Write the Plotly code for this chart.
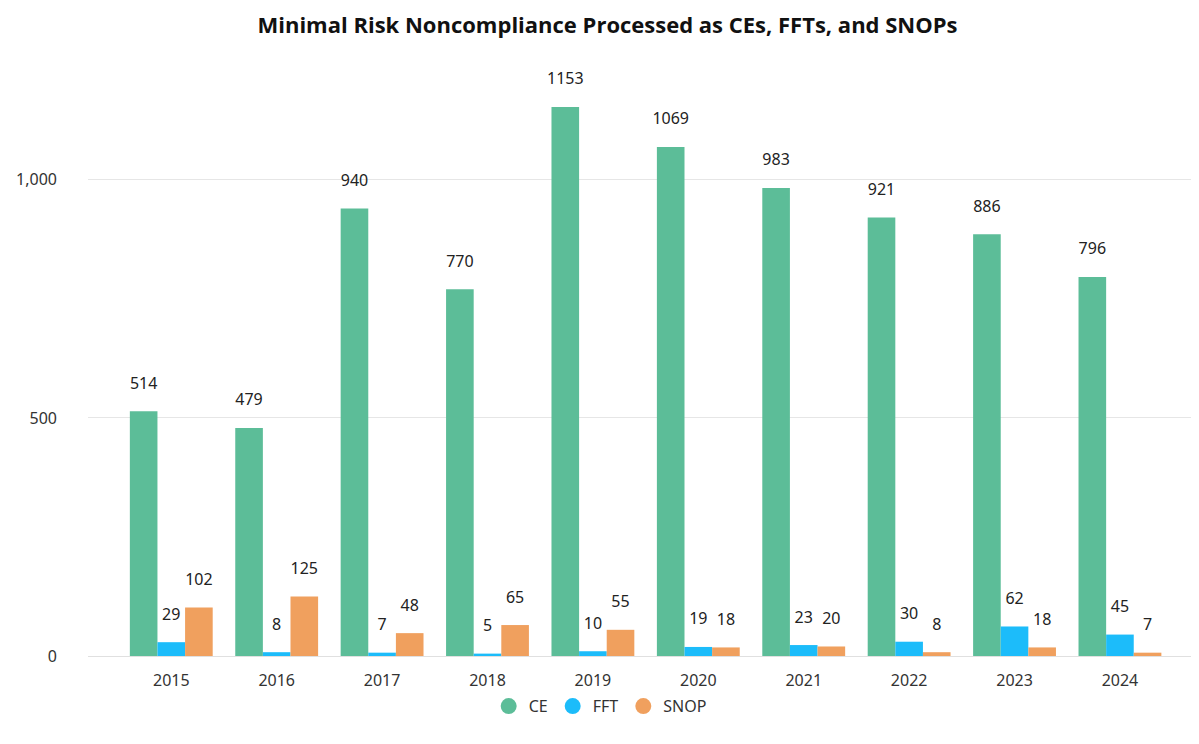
import plotly.graph_objects as go

years = ["2015", "2016", "2017", "2018", "2019", "2020", "2021", "2022", "2023", "2024"]
ce = [514, 479, 940, 770, 1153, 1069, 983, 921, 886, 796]
fft = [29, 8, 7, 5, 10, 19, 23, 30, 62, 45]
snop = [102, 125, 48, 65, 55, 18, 20, 8, 18, 7]

series = [("CE", ce, "#5cbd98"), ("FFT", fft, "#1cbcfa"), ("SNOP", snop, "#f0a05e")]

fig = go.Figure()
for name, vals, col in series:
    fig.add_trace(go.Bar(
        x=years, y=vals, name=name, marker=dict(color=col, line=dict(width=0)),
        offsetgroup=name, showlegend=False, hoverinfo="skip",
    ))
# value labels, grouped like the bars, lifted by an invisible marker
for name, vals, col in series:
    fig.add_trace(go.Scatter(
        x=years, y=vals, mode="markers+text", offsetgroup=name,
        text=[str(v) for v in vals], textposition="top center",
        textfont=dict(size=16, color="#222222", family="Noto Sans"),
        marker=dict(size=28, color="rgba(0,0,0,0)"),
        cliponaxis=False, showlegend=False,
    ))
for name, vals, col in series:
    fig.add_trace(go.Scatter(
        x=[None], y=[None], mode="markers", name=name,
        marker=dict(symbol="circle", size=17, color=col),
    ))

fig.update_layout(
    width=1199, height=744,
    plot_bgcolor="white", paper_bgcolor="white",
    margin=dict(l=77, r=8, t=29, b=96),
    barmode="group", bargap=0.214, bargroupgap=0,
    scattermode="group", scattergap=0.214,
    font=dict(family="Noto Sans", size=16, color="#333333"),
    title=dict(text="<b>Minimal Risk Noncompliance Processed as CEs, FFTs, and SNOPs</b>",
               x=0.5, xanchor="center", y=0.987, yanchor="top",
               font=dict(family="Open Sans", size=22, color="#111111")),
    legend=dict(orientation="h", x=0.461, xanchor="center", y=-0.081, yanchor="middle",
                font=dict(size=16, color="#333333"), itemwidth=30, traceorder="normal"),
    xaxis=dict(type="category", range=[-0.79, 9.75], showgrid=False, showline=False,
               ticks="", ticklabelstandoff=13, tickfont=dict(size=16, color="#333333")),
    yaxis=dict(range=[0, 1300], tickvals=[0, 500, 1000], ticktext=["0", "500", "1,000"],
               showgrid=True, gridcolor="#e6e6e6", gridwidth=1, zeroline=True,
               zerolinecolor="#e0e0e0", zerolinewidth=1, ticks="", ticklabelstandoff=30,
               tickfont=dict(size=16, color="#333333")),
)

fig.write_html("out.html")
